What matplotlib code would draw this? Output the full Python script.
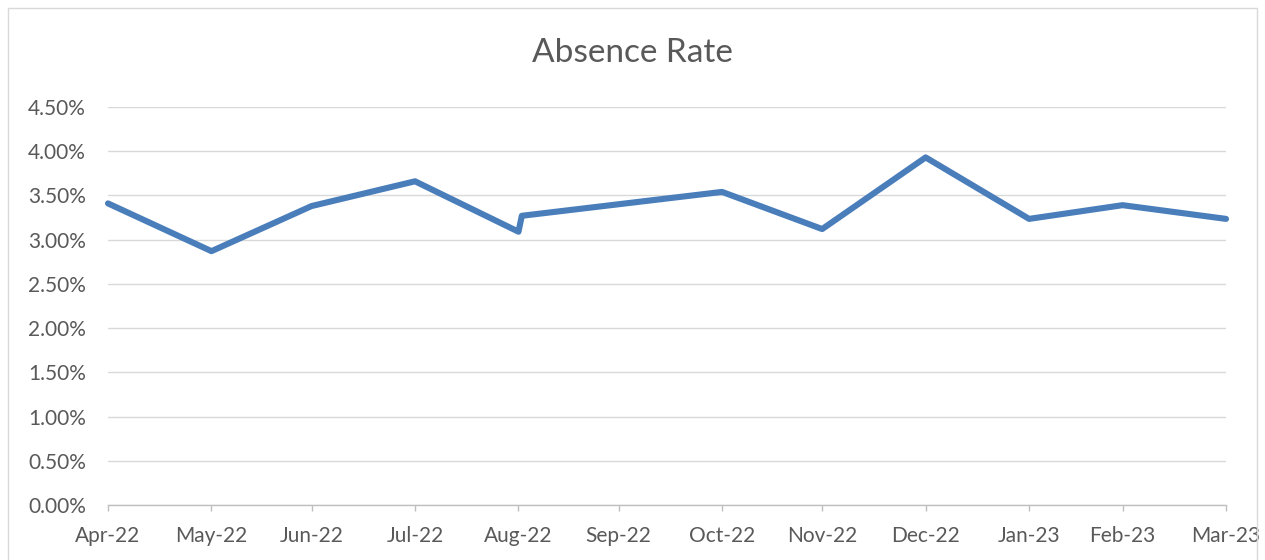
import matplotlib
matplotlib.use("Agg")
import matplotlib.pyplot as plt
import matplotlib.dates as mdates
from matplotlib.patches import Rectangle
from matplotlib.ticker import FuncFormatter
import pandas as pd

# ---- data ----
point_dates = ["2022-04-30", "2022-05-31", "2022-06-30", "2022-07-31", "2022-08-31",
               "2022-09-01", "2022-10-31", "2022-11-30", "2022-12-31", "2023-01-31",
               "2023-02-28", "2023-03-31"]
absence_rate = [3.41, 2.87, 3.38, 3.66, 3.09, 3.27, 3.54, 3.12, 3.93, 3.235, 3.39, 3.235]
tick_dates = ["2022-04-30", "2022-05-31", "2022-06-30", "2022-07-31", "2022-08-31",
              "2022-09-30", "2022-10-31", "2022-11-30", "2022-12-31", "2023-01-31",
              "2023-02-28", "2023-03-31"]
y_ticks = [0.0, 0.5, 1.0, 1.5, 2.0, 2.5, 3.0, 3.5, 4.0, 4.5]
title = "Absence Rate"

plt.rcParams['font.family'] = ['Lato', 'DejaVu Sans']

W, H = 1265, 560
fig = plt.figure(figsize=(W / 100, H / 100), dpi=100)

# chart border
fig.patches.append(Rectangle((8 / W, -0.05), (1257 - 8) / W, (H - 8) / H + 0.05,
                             transform=fig.transFigure, fill=False,
                             edgecolor="#D9D9D9", linewidth=1.0))

left, right, top, bottom = 108, 1226, 107, 505
ax = fig.add_axes([left / W, 1 - bottom / H, (right - left) / W, (bottom - top) / H])

x = pd.to_datetime(point_dates)
ticks = pd.to_datetime(tick_dates)

ax.plot(x, absence_rate, color="#4A7EBB", linewidth=4.4,
        solid_capstyle="round", solid_joinstyle="round", zorder=3, clip_on=False)

ax.set_xlim(ticks[0], ticks[-1])
ax.set_ylim(0, 4.5)
ax.set_xticks(ticks)
ax.xaxis.set_major_formatter(mdates.DateFormatter("%b-%y"))
ax.set_yticks(y_ticks)
ax.yaxis.set_major_formatter(FuncFormatter(lambda v, p: f"{v:.2f}%"))

ax.grid(axis="y", color="#D9D9D9", linewidth=1.0, zorder=0)
ax.set_axisbelow(True)
for s in ["top", "right", "left"]:
    ax.spines[s].set_visible(False)
ax.spines["bottom"].set_color("#BFBFBF")
ax.spines["bottom"].set_linewidth(1.0)

ax.tick_params(axis="y", length=0, pad=16, labelsize=15, labelcolor="#595959")
ax.tick_params(axis="x", length=4, width=1.0, color="#BFBFBF", pad=11,
               labelsize=15, labelcolor="#595959", direction="out")

fig.text(632 / W, 1 - 53 / H, title, ha="center", va="center",
         fontsize=24, color="#595959")

fig.savefig("out.png", dpi=100)
